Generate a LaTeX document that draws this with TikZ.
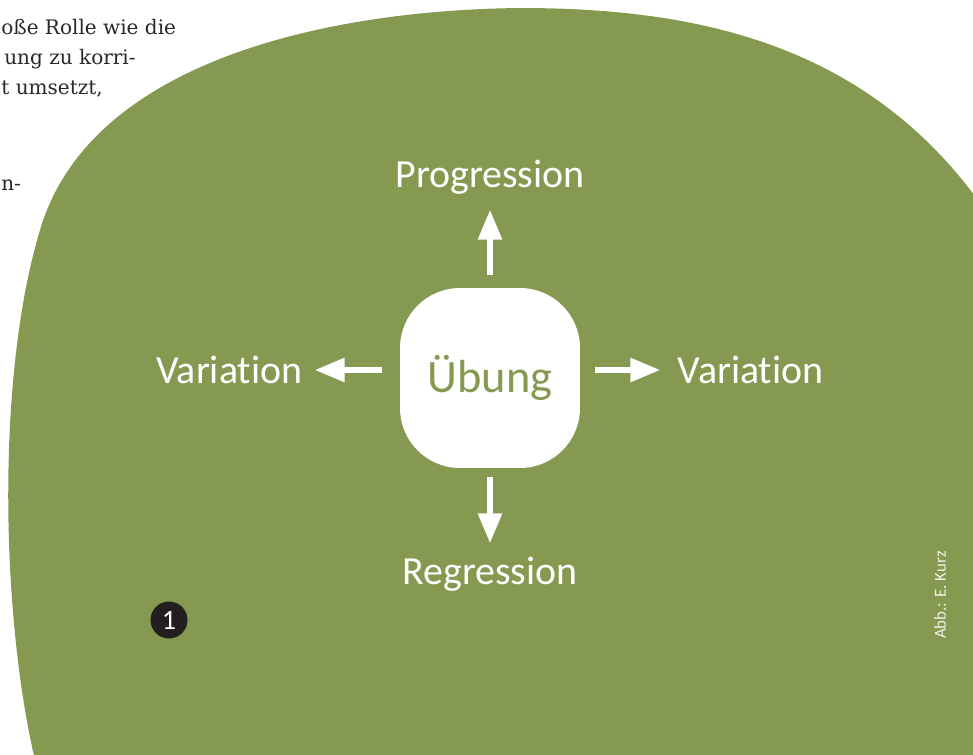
\documentclass[tikz,border=0pt]{standalone}
\usepackage{fontspec}
\setmainfont{Carlito}[Ligatures=NoCommon]
\newfontfamily\bodyserif{DejaVu Serif}
\usetikzlibrary{positioning, arrows.meta}
\definecolor{leaf}{RGB}{133,153,80}
\definecolor{ink}{RGB}{35,31,32}
\definecolor{bodytext}{RGB}{40,40,40}
\tikzset{%
  dirlabel/.style={text=white, inner sep=0pt, font=\fontsize{22.7}{26}\selectfont},
  centerbox/.style={fill=white, rounded corners=1.2cm, minimum size=3.6cm, inner sep=0pt,
    text=leaf, font=\fontsize{26.4}{30}\selectfont},
  dirarrow/.style={draw=white, line width=3.4pt,
    -{Triangle[length=0.6cm, width=0.46cm]}},
  pagetext/.style={text=bodytext, inner sep=0pt, anchor=base west,
    font=\bodyserif\fontsize{11.4}{14}\selectfont},
  badge/.style={circle, fill=ink, text=white, minimum size=0.74cm, inner sep=0pt,
    font=\fontsize{16}{18}\selectfont},
  credit/.style={text=white!88!leaf, inner sep=0pt, font=\fontsize{9.6}{11}\selectfont}
}
\begin{document}
\begin{tikzpicture}[x=0.02cm, y=-0.02cm]
\useasboundingbox (0,0) rectangle (973,754);

% running text of the page behind the figure
\node[pagetext] (t1) at (1,34) {oße Rolle wie die};
\node[pagetext] (t2) at (4,64) {ung zu korri-};
\node[pagetext] (t3) at (1,94) {t umsetzt,};
\node[pagetext] (t4) at (1,190) {n-};

% green background blob
\begin{scope}
\clip (0,0) rectangle (973,754);
\fill[leaf] (35,760) .. controls (2,620) and (-5,380) .. (40,230)
  .. controls (90,60) and (330,10) .. (520,8)
  .. controls (700,8) and (870,45) .. (985,210) -- (985,760) -- cycle;
\end{scope}

\node[centerbox] (ub) at (490,378) {Übung};
\node[dirlabel, above=1.86cm of ub] (prog) {Progression};
\node[dirlabel, below=1.76cm of ub] (regr) {Regression};
\node[dirlabel, left=1.94cm of ub, yshift=0.16cm] (varl) {Variation};
\node[dirlabel, right=1.94cm of ub, yshift=0.16cm] (varr) {Variation};

\draw[dirarrow, shorten <=0.26cm, shorten >=0.3cm] (ub) -- (prog);
\draw[dirarrow, shorten <=0.18cm, shorten >=0.26cm] (ub) -- (regr);
\draw[dirarrow, shorten <=0.36cm, shorten >=0.24cm] (ub.west |- varl) -- (varl.east);
\draw[dirarrow, shorten <=0.3cm, shorten >=0.34cm] (ub.east |- varr) -- (varr.west);

\node[badge] (num) at (169,620) {1};
\node[credit, rotate=90] (abb) at (940,595) {Abb.: E. Kurz};

\end{tikzpicture}
\end{document}
